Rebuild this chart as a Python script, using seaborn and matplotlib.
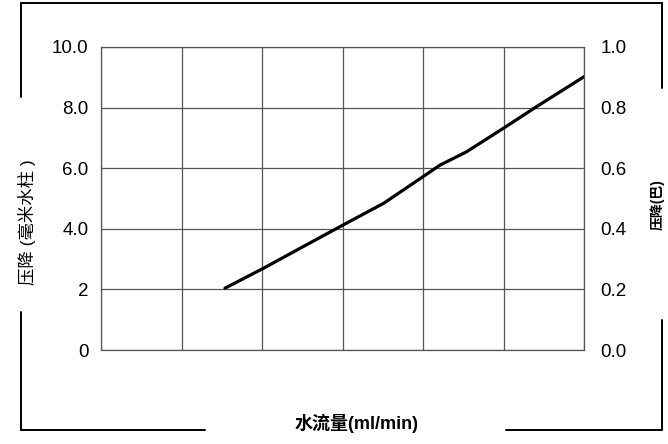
import numpy as np
import pandas as pd
import matplotlib
matplotlib.use("Agg")
import matplotlib.pyplot as plt
from matplotlib.lines import Line2D
import seaborn as sns

sns.set_style("white")
plt.rcParams['font.family'] = ['Liberation Sans', 'Noto Sans CJK SC']
plt.rcParams['text.color'] = 'black'
plt.rcParams['ytick.color'] = 'black'

################################################
# Data
################################################
flow = [1.54, 2.02, 2.51, 3.01, 3.51, 4.0, 4.21, 4.54, 5.0, 5.41, 6.0]
pressure = [2.04, 2.70, 3.41, 4.13, 4.84, 5.72, 6.10, 6.54, 7.32, 8.03, 9.02]

left_ticks = [0, 2, 4, 6, 8, 10]
left_labels = ['0', '2', '4.0', '6.0', '8.0', '10.0']
right_ticks = [0.0, 0.2, 0.4, 0.6, 0.8, 1.0]
right_labels = ['0.0', '0.2', '0.4', '0.6', '0.8', '1.0']
x_grid = [0, 1, 2, 3, 4, 5, 6]

x_label = '水流量(ml/min)'
y_label = '压降 (毫米水柱 )'
y2_label = '压降(巴)'

df = pd.DataFrame({'flow': flow, 'pressure': pressure})

GRID = '#555555'

fig = plt.figure(figsize=(6.68, 4.44), dpi=100)
ax = fig.add_axes([101/668, 94/444, 483/668, 303/444])

sns.lineplot(data=df, x='flow', y='pressure', color='black', linewidth=2.3, ax=ax)

ax.set_xlim(0, 6)
ax.set_ylim(0, 10)
ax.set_xticks(x_grid)
ax.set_xticklabels([])
ax.set_yticks(left_ticks)
ax.set_yticklabels(left_labels, fontsize=13.5, color='black')
ax.tick_params(axis='both', length=0, pad=9)
ax.grid(True, color=GRID, linewidth=0.9)
for s in ax.spines.values():
  s.set_color(GRID)
  s.set_linewidth(0.9)
ax.set_xlabel('')
ax.set_ylabel('')

ax2 = ax.twinx()
ax2.set_ylim(0, 1)
ax2.set_yticks(right_ticks)
ax2.set_yticklabels(right_labels, fontsize=13.5, color='black')
ax2.tick_params(axis='y', length=0, pad=12)
for s in ax2.spines.values():
  s.set_visible(False)

# axis titles
fig.text(27/668, 1 - 222/444, y_label, rotation=90, fontsize=12.5,
         ha='center', va='center', fontweight='medium')
fig.text(357/668, 1 - 423/444, x_label, fontsize=13, fontweight='bold',
         ha='center', va='center')
fig.text(657/668, 1 - 205/444, y2_label, rotation=90, fontsize=10,
         ha='center', va='center', fontweight='bold')

################################################
# Outer frame with gaps for the titles
################################################
def fline(x0, y0, x1, y1):
  fig.add_artist(Line2D([x0/668, x1/668], [1 - y0/444, 1 - y1/444],
                        color='black', linewidth=1.4))

fline(21, 3, 662, 3)
fline(21, 3, 21, 97)
fline(21, 312, 21, 430)
fline(21, 430, 205, 430)
fline(506, 430, 662, 430)
fline(662, 3, 662, 88)
fline(662, 320, 662, 430)

plt.savefig('out.png', dpi=100)
